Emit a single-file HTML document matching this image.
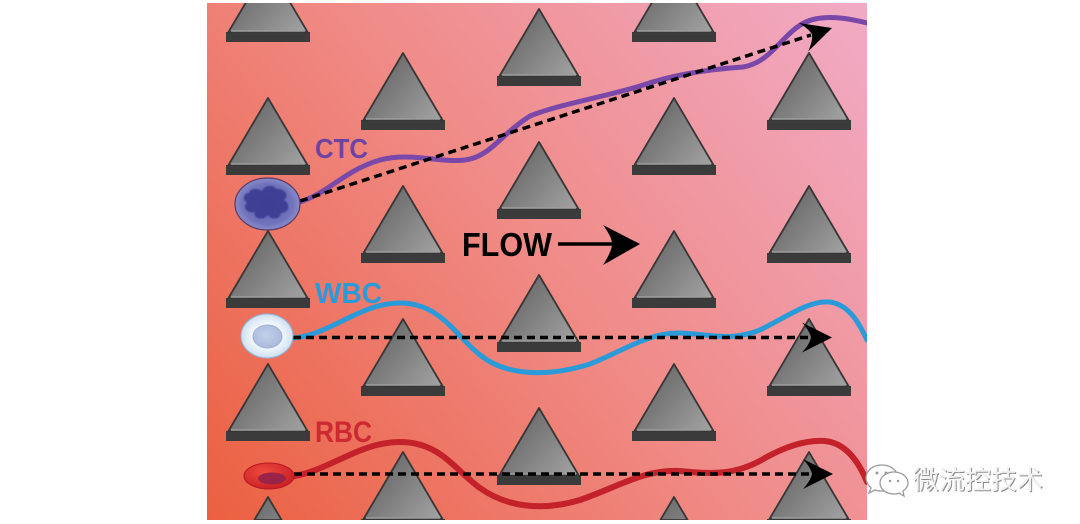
<!DOCTYPE html>
<html>
<head>
<meta charset="utf-8">
<style>
html,body{margin:0;padding:0;background:#fff;width:1080px;height:524px;overflow:hidden}
svg{display:block}
</style>
</head>
<body>
<svg width="1080" height="524" viewBox="0 0 1080 524" xmlns="http://www.w3.org/2000/svg" xmlns:xlink="http://www.w3.org/1999/xlink">
  <defs>
    <linearGradient id="bg" gradientUnits="userSpaceOnUse" x1="207" y1="520" x2="867" y2="3">
      <stop offset="0" stop-color="#eb6040"/>
      <stop offset="0.5" stop-color="#f08a86"/>
      <stop offset="1" stop-color="#f1abc6"/>
    </linearGradient>
    <linearGradient id="tg" x1="0" y1="0" x2="1" y2="1">
      <stop offset="0" stop-color="#5a5a5a"/>
      <stop offset="1" stop-color="#a4a4a4"/>
    </linearGradient>
    <linearGradient id="tgu" gradientUnits="userSpaceOnUse" x1="-40" y1="0" x2="40" y2="67">
      <stop offset="0" stop-color="#5a5a5a"/>
      <stop offset="1" stop-color="#a4a4a4"/>
    </linearGradient>
    <radialGradient id="ctcg" cx="0.5" cy="0.5" r="0.55">
      <stop offset="0" stop-color="#5a5cae"/>
      <stop offset="0.7" stop-color="#7174bb"/>
      <stop offset="1" stop-color="#9295cf"/>
    </radialGradient>
    <radialGradient id="wbcg" cx="0.5" cy="0.5" r="0.55">
      <stop offset="0.5" stop-color="#f4f8fc"/>
      <stop offset="0.85" stop-color="#d4e4f4"/>
      <stop offset="1" stop-color="#9cc0e4"/>
    </radialGradient>
    <radialGradient id="wbci" cx="0.45" cy="0.45" r="0.6">
      <stop offset="0" stop-color="#c4d0ea"/>
      <stop offset="1" stop-color="#a8b8dc"/>
    </radialGradient>
    <radialGradient id="rbcg" cx="0.4" cy="0.35" r="0.7">
      <stop offset="0" stop-color="#ef4a40"/>
      <stop offset="1" stop-color="#c81e24"/>
    </radialGradient>
    <filter id="blur1" x="-20%" y="-20%" width="140%" height="140%">
      <feGaussianBlur stdDeviation="0.9"/>
    </filter>
    <clipPath id="panel">
      <rect x="207" y="3" width="660" height="517"/>
    </clipPath>
    <g id="tri">
      <rect x="-42" y="67" width="84" height="10" fill="#3b3b3b"/>
      <path d="M0,0 L39.5,67 L-39.5,67 Z" fill="url(#tgu)" stroke="#373737" stroke-width="1.8" stroke-linejoin="round"/>
      <line x1="-37" y1="66" x2="37" y2="66" stroke="#9e9e9e" stroke-width="1.4"/>
    </g>
    <g id="triB">
      <rect x="-42" y="67" width="84" height="1" fill="#3b3b3b"/>
      <path d="M0,0 L39.5,67 L-39.5,67 Z" fill="url(#tgu)" stroke="#373737" stroke-width="1.8" stroke-linejoin="round"/>
      <line x1="-37" y1="66" x2="37" y2="66" stroke="#9e9e9e" stroke-width="1.4"/>
    </g>
    <g id="triC">
      <path d="M0,0 L13.6,23 L-13.6,23 Z" fill="url(#tgu)" stroke="#373737" stroke-width="1.8" stroke-linejoin="round"/>
    </g>
    <path id="ah" d="M0,0 L-30,-15 Q-22,-6 -21,0 Q-22,6 -30,15 Z" fill="#000"/>
  </defs>

  <rect x="0" y="0" width="1080" height="524" fill="#ffffff"/>

  <g clip-path="url(#panel)">
    <rect x="207" y="3" width="660" height="517" fill="url(#bg)"/>

    <!-- triangles -->
    <use xlink:href="#tri" href="#tri" x="268" y="-35"/>
    <use xlink:href="#tri" href="#tri" x="268" y="98"/>
    <use xlink:href="#tri" href="#tri" x="268" y="231"/>
    <use xlink:href="#tri" href="#tri" x="268" y="364"/>
    <use xlink:href="#triC" href="#triC" x="268" y="497"/>

    <use xlink:href="#tri" href="#tri" x="403" y="53"/>
    <use xlink:href="#tri" href="#tri" x="403" y="186"/>
    <use xlink:href="#tri" href="#tri" x="403" y="319"/>
    <use xlink:href="#triB" href="#triB" x="403" y="452"/>

    <use xlink:href="#tri" href="#tri" x="539" y="9"/>
    <use xlink:href="#tri" href="#tri" x="539" y="142"/>
    <use xlink:href="#tri" href="#tri" x="539" y="275"/>
    <use xlink:href="#tri" href="#tri" x="539" y="408"/>

    <use xlink:href="#tri" href="#tri" x="674" y="-35"/>
    <use xlink:href="#tri" href="#tri" x="674" y="98"/>
    <use xlink:href="#tri" href="#tri" x="674" y="231"/>
    <use xlink:href="#tri" href="#tri" x="674" y="364"/>
    <use xlink:href="#triC" href="#triC" x="674" y="497"/>

    <use xlink:href="#tri" href="#tri" x="809" y="53"/>
    <use xlink:href="#tri" href="#tri" x="809" y="186"/>
    <use xlink:href="#tri" href="#tri" x="809" y="319"/>
    <use xlink:href="#triB" href="#triB" x="809" y="452"/>

    <!-- colored trajectories -->
    <path d="M300,202 C330,192 345,170 380,160 C410,152 440,163 465,160 C490,157 500,135 530,116 C560,104 600,98 640,86 C670,76 700,70 743,67 C775,62 785,25 815,19 C835,15 855,20 867,23"
          fill="none" stroke="#7a48a8" stroke-width="5" stroke-linecap="round"/>
    <path d="M293,338 C330,335 360,303 400,303 C440,303 455,335 480,355 C505,375 545,378 590,364 C625,350 650,332 680,333 C710,334 730,342 760,330 C790,315 810,300 830,302 C850,305 860,325 867,340"
          fill="none" stroke="#2a9bd8" stroke-width="5" stroke-linecap="round"/>
    <path d="M294,476 C330,470 360,442 400,442 C440,442 455,470 480,488 C505,506 540,512 580,500 C620,486 645,469 680,471 C710,474 735,476 765,458 C790,444 810,440 825,441 C845,443 858,460 867,482"
          fill="none" stroke="#c4222a" stroke-width="6" stroke-linecap="round"/>

    <!-- dashed straight lines -->
    <line x1="300" y1="201" x2="811" y2="35" stroke="#000" stroke-width="3.5" stroke-dasharray="8 5"/>
    <line x1="293" y1="337.5" x2="812" y2="337.5" stroke="#000" stroke-width="3.5" stroke-dasharray="8 5"/>
    <line x1="294" y1="474" x2="813" y2="474" stroke="#000" stroke-width="3.5" stroke-dasharray="8 5"/>

    <!-- arrowheads -->
    <use xlink:href="#ah" href="#ah" transform="translate(832,28) rotate(-18)"/>
    <use xlink:href="#ah" href="#ah" transform="translate(832,337.5)"/>
    <use xlink:href="#ah" href="#ah" transform="translate(833,474)"/>

    <!-- FLOW arrow -->
    <line x1="558" y1="244" x2="614" y2="244" stroke="#000" stroke-width="3.5"/>
    <path d="M640,244 L603,225 Q612,237 612,244 Q612,251 603,265 Z" fill="#000"/>
    <text x="462" y="256" font-family="'Liberation Sans', sans-serif" font-weight="bold" font-size="33" fill="#000" textLength="90" lengthAdjust="spacingAndGlyphs">FLOW</text>

    <!-- labels -->
    <text x="315" y="158" font-family="'Liberation Sans', sans-serif" font-weight="bold" font-size="27.5" fill="#6e44a2" textLength="53" lengthAdjust="spacingAndGlyphs">CTC</text>
    <text x="315" y="303" font-family="'Liberation Sans', sans-serif" font-weight="bold" font-size="29" fill="#2a9ad8" textLength="67" lengthAdjust="spacingAndGlyphs">WBC</text>
    <text x="315" y="442" font-family="'Liberation Sans', sans-serif" font-weight="bold" font-size="30" fill="#cc2a30" textLength="57" lengthAdjust="spacingAndGlyphs">RBC</text>

    <!-- CTC cell -->
    <ellipse cx="267.5" cy="204" rx="32.5" ry="26" fill="url(#ctcg)" stroke="#5a3a64" stroke-width="1.2"/>
    <path d="M249,193 C251,187 259,189 262,191 C265,184 274,185 276,189 C284,188 290,195 284,200 C291,204 289,213 281,213 C280,220 271,220 268,215 C263,221 253,219 255,212 C247,214 242,207 247,203 C241,198 245,193 249,193 Z M256,199 L262,201 L259,206 Z"
          fill="#3a3a92" opacity="0.9" filter="url(#blur1)"/>

    <!-- WBC cell -->
    <ellipse cx="267" cy="336" rx="26" ry="22" fill="url(#wbcg)" stroke="#8db4dc" stroke-width="1"/>
    <ellipse cx="267.5" cy="336.5" rx="14.5" ry="11.5" fill="url(#wbci)" stroke="#9fb2d8" stroke-width="1"/>

    <!-- RBC cell -->
    <ellipse cx="269" cy="476" rx="25" ry="13" fill="url(#rbcg)" stroke="#b81a22" stroke-width="1"/>
    <ellipse cx="272" cy="478.5" rx="14" ry="6" fill="#9a2448"/>
  </g>

  <!-- watermark -->
  <g fill="#ffffff" stroke="#9a9a9a" stroke-width="1.3">
    <path d="M882,465 C872,465 866,471 866,478 C866,482 868,485 871,488 L869,493 L875,490 C877,491 879,491 882,491 C891,491 898,485 898,478 C898,471 891,465 882,465 Z"/>
    <path d="M894,472 C886,472 880,477 880,483 C880,489 886,494 894,494 C896,494 898,494 899,493 L904,496 L903,491 C906,489 908,486 908,483 C908,477 902,472 894,472 Z"/>
  </g>
  <g fill="#9a9a9a">
    <circle cx="877" cy="473" r="1.5"/>
    <circle cx="886" cy="473" r="1.5"/>
    <circle cx="890" cy="481" r="1.2"/>
    <circle cx="898" cy="481" r="1.2"/>
  </g>
  <text x="914" y="490" font-family="'Liberation Sans', 'Noto Sans CJK SC', sans-serif" font-size="26" fill="#8e8e8e" textLength="130" lengthAdjust="spacingAndGlyphs">微流控技术</text>
  <text x="913" y="489" font-family="'Liberation Sans', 'Noto Sans CJK SC', sans-serif" font-size="26" fill="#f2f2f2" textLength="130" lengthAdjust="spacingAndGlyphs">微流控技术</text>
</svg>
</body>
</html>
